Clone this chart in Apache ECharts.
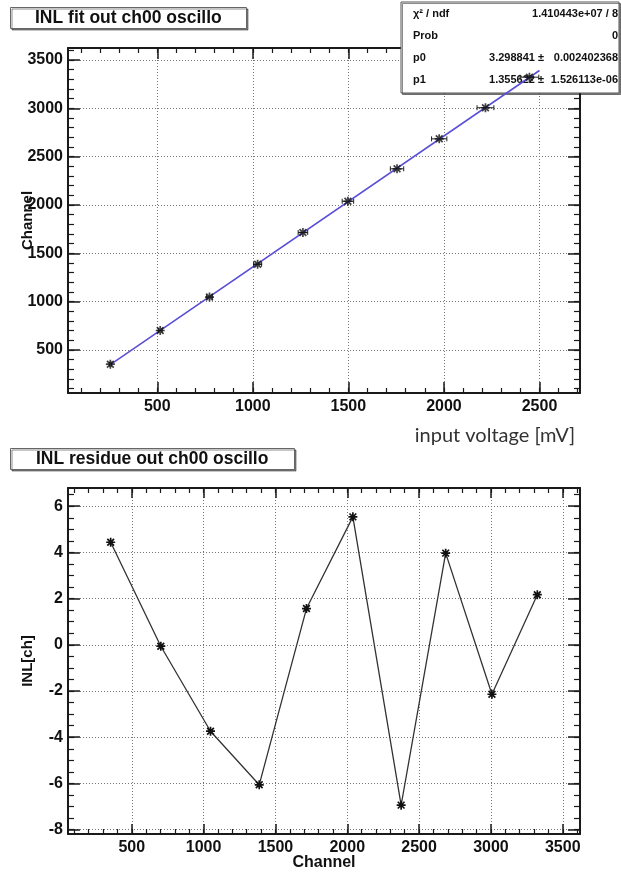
<!DOCTYPE html>
<html><head><meta charset="utf-8">
<script src="https://cdn.jsdelivr.net/npm/echarts@6/dist/echarts.min.js"></script>
<style>html,body{margin:0;padding:0;background:#fff}#c{width:621px;height:874px}</style>
</head><body><div id="c"></div>
<script>
// ---- data ----
const voltage    = [254.7, 515.5, 773.4, 1025.2, 1262.2, 1497.6, 1754.6, 1975.3, 2217.3, 2447.4];
const voltageErr = [5, 10, 15, 21, 25, 30, 35, 40, 44, 49];
const channel    = [353, 702, 1048, 1387, 1716, 2039, 2375, 2685, 3007, 3323];
const inl        = [4.44, -0.06, -3.74, -6.06, 1.57, 5.54, -6.94, 3.97, -2.14, 2.17];
const fitP0 = 3.298841, fitP1 = 1.355622;
const fitRange = [254.7, 2500];
const statsRows = [
  ['\u03c7\u00b2 / ndf', '', '1.410443e+07 / 8'],
  ['Prob', '', '0'],
  ['p0', '3.298841 \u00b1', '0.002402368'],
  ['p1', '1.355622 \u00b1', '1.526113e-06']
];
// tick labels
const topXTicks = [500, 1000, 1500, 2000, 2500];
const topYTicks = [500, 1000, 1500, 2000, 2500, 3000, 3500];
const botXTicks = [500, 1000, 1500, 2000, 2500, 3000, 3500];
const botYTicks = [-8, -6, -4, -2, 0, 2, 4, 6];
function steps(a, b, s) { const r = []; for (let v = a; v <= b + 1e-9; v += s) r.push(+v.toFixed(3)); return r; }
const topXMinor = steps(100, 2700, 100);
const topYMinor = steps(100, 3600, 100);
const botXMinor = steps(100, 3600, 100);
const botYMinor = steps(-8, 6.5, 0.5);

// ---- chart ----
const FONT = 'Liberation Sans';
const AX = '#1a1a1a';
const labelStyle = { fontFamily: FONT, fontWeight: 'bold', fontSize: 16, color: '#111', formatter: function (v) { return String(v); } };

function makeAxes(grid, isX, min, max, major, minor, majLen, minLen, labelMargin, nameOpt) {
  const pos = isX ? ['bottom', 'top'] : ['left', 'right'];
  const list = [];
  pos.forEach((p, k) => {
    const main = {
      type: 'value', gridIndex: grid, min: min, max: max, position: p, offset: 0,
      nameMoveOverlap: false,
      axisLine: { show: true, onZero: false, lineStyle: { color: AX, width: 2 } },
      axisTick: { show: true, inside: true, length: majLen, customValues: major, lineStyle: { color: AX, width: 1.5 } },
      axisLabel: k === 0 ? Object.assign({ show: true, customValues: major, margin: labelMargin }, labelStyle) : { show: false },
      splitLine: k === 0 ? { show: true, lineStyle: { color: '#777', type: [1, 2], width: 1 } } : { show: false },
      minorTick: { show: false }, minorSplitLine: { show: false }
    };
    if (k === 0 && nameOpt) Object.assign(main, nameOpt);
    list.push(main);
    list.push({
      type: 'value', gridIndex: grid, min: min, max: max, position: p, offset: 0,
      axisLine: { show: false, onZero: false },
      axisTick: { show: true, inside: true, length: minLen, customValues: minor, lineStyle: { color: AX, width: 1.2 } },
      axisLabel: { show: false },
      splitLine: { show: false }
    });
  });
  return list;
}

const star = 'path://M-1.5,-8L1.5,-8L1.5,8L-1.5,8Z M-8,-1.5L8,-1.5L8,1.5L-8,1.5Z ' +
  'M-4.94,-7.06L7.06,4.94L4.94,7.06L-7.06,-4.94Z M4.94,-7.06L7.06,-4.94L-4.94,7.06L-7.06,4.94Z';

const topPts = voltage.map((v, i) => [v, channel[i]]);
const topErr = voltage.map((v, i) => [v, channel[i], voltageErr[i]]);
const fitLine = fitRange.map(v => [v, fitP0 + fitP1 * v]);
const botPts = channel.map((c, i) => [c, inl[i]]);

const xAxes = [].concat(
  makeAxes(0, true, 33, 2712, topXTicks, topXMinor, 11, 5, 6, {
    name: 'input voltage [mV]', nameLocation: 'end', nameGap: -5,
    nameTextStyle: { fontFamily: 'Lato', fontSize: 20, color: '#333', align: 'right', verticalAlign: 'top', padding: [33, 0, 0, 0] }
  }),
  makeAxes(1, true, 56, 3620, botXTicks, botXMinor, 10, 5, 6, {
    name: 'Channel', nameLocation: 'middle', nameGap: 21,
    nameTextStyle: { fontFamily: FONT, fontWeight: 'bold', fontSize: 16, color: '#111' }
  })
);
const yAxes = [].concat(
  makeAxes(0, false, 55, 3625, topYTicks, topYMinor, 12, 6, 5, {
    name: 'Channel', nameLocation: 'middle', nameGap: 33,
    nameTextStyle: { fontFamily: FONT, fontWeight: 'bold', fontSize: 15, color: '#111' }
  }),
  makeAxes(1, false, -8.19, 6.79, botYTicks, botYMinor, 12, 6, 5, {
    name: 'INL[ch]', nameLocation: 'middle', nameGap: 33,
    nameTextStyle: { fontFamily: FONT, fontWeight: 'bold', fontSize: 15, color: '#111' }
  })
);

const titleBase = {
  backgroundColor: '#fff', borderColor: '#666', borderWidth: 1,
  shadowColor: 'rgba(0,0,0,0.45)', shadowOffsetX: 1.5, shadowOffsetY: 1.5, shadowBlur: 0,
  textStyle: { fontFamily: FONT, fontWeight: 'bold', fontSize: 17.5, color: '#111' }
};

const statsEls = [{
  type: 'rect', z: 1,
  shape: { x: 401, y: 2, width: 218, height: 91 },
  style: { fill: '#fff', stroke: '#555', lineWidth: 1, shadowColor: 'rgba(0,0,0,0.45)', shadowOffsetX: 1.5, shadowOffsetY: 1.5 }
}];
const statFont = 'bold 11px "' + FONT + '"';
statsRows.forEach((r, i) => {
  const y = 14 + i * 22;
  statsEls.push({ type: 'text', z: 1.5, style: { x: 413, y: y, text: r[0], font: statFont, fill: '#111', align: 'left', verticalAlign: 'middle' } });
  if (r[1]) statsEls.push({ type: 'text', z: 1.5, style: { x: 544, y: y, text: r[1], font: statFont, fill: '#111', align: 'right', verticalAlign: 'middle' } });
  statsEls.push({ type: 'text', z: 1.5, style: { x: 618, y: y, text: r[2], font: statFont, fill: '#111', align: 'right', verticalAlign: 'middle' } });
});

const option = {
  backgroundColor: '#fff',
  animation: false,
  title: [
    Object.assign({ text: 'INL fit out ch00 oscillo', left: 10, top: 7, padding: [2, 25, 2, 25] }, titleBase),
    Object.assign({ text: 'INL residue out ch00 oscillo', left: 10, top: 448, padding: [2, 26, 2, 26] }, titleBase)
  ],
  grid: [
    { left: 68, top: 48, width: 512, height: 345 },
    { left: 68, top: 488, width: 512, height: 346 }
  ],
  xAxis: xAxes,
  yAxis: yAxes,
  graphic: { elements: statsEls },
  series: [
    {
      type: 'line', name: 'fit', xAxisIndex: 0, yAxisIndex: 0, data: fitLine, z: 3,
      showSymbol: false, lineStyle: { color: '#5a4fd6', width: 1.6 }
    },
    {
      type: 'custom', name: 'errors', xAxisIndex: 0, yAxisIndex: 0, data: topErr, z: 4,
      encode: { x: 0, y: 1 },
      renderItem: function (params, api) {
        const x = api.value(0), y = api.value(1), e = api.value(2);
        const a = api.coord([x - e, y]), b = api.coord([x + e, y]);
        const st = { stroke: '#222', lineWidth: 1 };
        return { type: 'group', children: [
          { type: 'line', shape: { x1: a[0], y1: a[1], x2: b[0], y2: b[1] }, style: st },
          { type: 'line', shape: { x1: a[0], y1: a[1] - 2.5, x2: a[0], y2: a[1] + 2.5 }, style: st },
          { type: 'line', shape: { x1: b[0], y1: b[1] - 2.5, x2: b[0], y2: b[1] + 2.5 }, style: st }
        ] };
      }
    },
    {
      type: 'scatter', name: 'points', xAxisIndex: 0, yAxisIndex: 0, data: topPts, z: 5,
      symbol: star, symbolSize: 9, itemStyle: { color: '#111' }
    },
    {
      type: 'line', name: 'INL', xAxisIndex: 4, yAxisIndex: 4, data: botPts, z: 3,
      symbol: star, symbolSize: 9, showAllSymbol: true,
      itemStyle: { color: '#111' }, lineStyle: { color: '#333', width: 1.3 }
    }
  ]
};
const chart = echarts.init(document.getElementById('c'), null, { renderer: 'canvas' });
chart.setOption(option);
</script>
</body></html>
